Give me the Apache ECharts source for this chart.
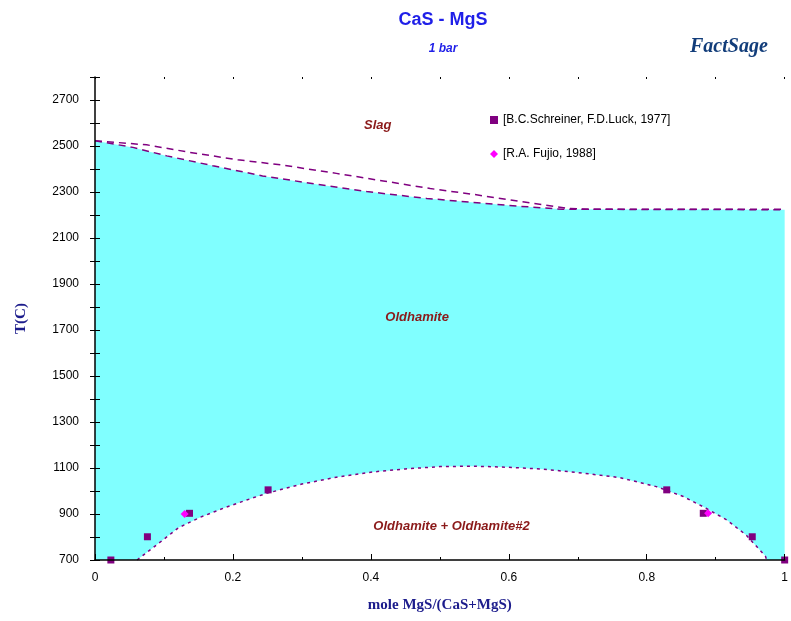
<!DOCTYPE html>
<html>
<head>
<meta charset="utf-8">
<title>CaS - MgS</title>
<script src="https://cdn.jsdelivr.net/npm/echarts@6/dist/echarts.min.js"></script>
<style>
  html, body { margin: 0; padding: 0; background: #fff; }
  #chart { width: 791px; height: 621px; }
</style>
</head>
<body>
<div id="chart"></div>
<script>
// mole MgS/(CaS+MgS) vs T(C)
// liquidus (upper dashed line)
var liquidusX = [0, 0.075, 0.138, 0.207, 0.272, 0.350, 0.418, 0.486, 0.548, 0.635, 0.688, 0.717, 1]
var liquidusT = [2523, 2505, 2472, 2440, 2417, 2381, 2348, 2315, 2290, 2251, 2228, 2225, 2225]
// solidus (top of the oldhamite field)
var solidusX = [0, 0.055, 0.104, 0.171, 0.243, 0.321, 0.394, 0.481, 0.611, 0.678, 1]
var solidusT = [2523, 2494, 2457, 2414, 2370, 2334, 2302, 2272, 2239, 2225, 2223]
// miscibility gap (Oldhamite + Oldhamite#2)
var gapX = [0.061, 0.089, 0.121, 0.152, 0.186, 0.220, 0.249, 0.30, 0.35, 0.40, 0.45, 0.50, 0.55, 0.60, 0.65, 0.70, 0.732, 0.761, 0.790, 0.814, 0.853, 0.886, 0.916, 0.944, 0.972, 0.974]
var gapT = [700, 765, 840, 885, 925, 961, 990, 1030, 1060, 1082, 1096, 1106, 1108, 1103, 1095, 1080, 1069, 1058, 1037, 1019, 976, 925, 874, 809, 717, 700]

// experimental points
var refNames = ['[B.C.Schreiner, F.D.Luck, 1977]', '[R.A. Fujio, 1988]']
var refAX = [0.023, 0.076, 0.137, 0.251, 0.829, 0.882, 0.953, 1.0]
var refAT = [700, 801, 903, 1005, 1005, 903, 801, 700]
var refBX = [0.130, 0.889]
var refBT = [900, 903]

// phase field labels
var fieldNames = ['Slag', 'Oldhamite', 'Oldhamite + Oldhamite#2']
var fieldX = [0.41, 0.467, 0.517]
var fieldT = [2591, 1754, 844]

// axis ticks
var xTicks = [0, 0.2, 0.4, 0.6, 0.8, 1]
var yTicks = [700, 900, 1100, 1300, 1500, 1700, 1900, 2100, 2300, 2500, 2700]

function zip(xs, ys) {
  return xs.map(function (x, i) { return [x, ys[i]] })
}

var purple = '#800080'
var chart = echarts.init(document.getElementById('chart'))

chart.setOption({
  animation: false,
  title: {
    text: 'CaS - MgS',
    subtext: '1 bar',
    left: 438,
    textAlign: 'center',
    top: 6,
    itemGap: 14,
    textStyle: {
      fontFamily: 'Liberation Sans',
      fontSize: 18,
      fontWeight: 'bold',
      color: '#1f1fe8'
    },
    subtextStyle: {
      fontFamily: 'Liberation Sans',
      fontSize: 12,
      fontWeight: 'bold',
      fontStyle: 'italic',
      color: '#1f1fe8'
    }
  },
  graphic: [{
    type: 'text',
    left: 690,
    top: 37,
    style: {
      text: 'FactSage',
      font: 'bold italic 20px "Liberation Serif"',
      fill: '#123d7a'
    }
  }],
  legend: {
    data: refNames,
    orient: 'vertical',
    left: 485,
    top: 109,
    itemWidth: 8,
    itemHeight: 8,
    itemGap: 22,
    textStyle: {
      fontFamily: 'Liberation Sans',
      fontSize: 12,
      color: '#000'
    }
  },
  grid: {
    left: 95,
    right: 6,
    top: 77,
    bottom: 61
  },
  xAxis: [{
    type: 'value',
    min: 0,
    max: 1,
    interval: 0.2,
    z: 10,
    name: 'mole MgS/(CaS+MgS)',
    nameLocation: 'middle',
    nameGap: 38,
    nameTextStyle: {
      fontFamily: 'Liberation Serif',
      fontSize: 15,
      fontWeight: 'bold',
      color: '#1c1c8c'
    },
    axisLine: { lineStyle: { color: '#000', width: 1.5 } },
    axisTick: { inside: true, length: 6, lineStyle: { color: '#000' } },
    minorTick: { show: true, splitNumber: 2, length: 3, lineStyle: { color: '#000' } },
    splitLine: { show: false },
    axisLabel: {
      margin: 12,
      fontFamily: 'Liberation Sans',
      fontSize: 12,
      color: '#000',
      formatter: function (v) {
        return xTicks.indexOf(Math.round(v * 10) / 10) >= 0 ? String(Math.round(v * 10) / 10) : ''
      }
    }
  }, {
    type: 'value',
    position: 'top',
    min: 0,
    max: 1,
    interval: 0.1,
    axisLine: { show: false },
    axisTick: { inside: true, length: 2, lineStyle: { color: '#000' } },
    axisLabel: { show: false },
    splitLine: { show: false }
  }],
  yAxis: [{
    type: 'value',
    min: 700,
    max: 2800,
    interval: 100,
    z: 10,
    name: 'T(C)',
    nameLocation: 'middle',
    nameGap: 66,
    nameTextStyle: {
      fontFamily: 'Liberation Serif',
      fontSize: 15,
      fontWeight: 'bold',
      color: '#1c1c8c'
    },
    axisLine: { show: true, lineStyle: { color: '#000', width: 1.5 } },
    axisTick: { inside: true, length: 5, lineStyle: { color: '#000' } },
    splitLine: { show: false },
    axisLabel: {
      margin: 16,
      fontFamily: 'Liberation Sans',
      fontSize: 12,
      color: '#000',
      formatter: function (v) {
        return yTicks.indexOf(v) >= 0 ? String(v) : ''
      }
    }
  }, {
    type: 'value',
    position: 'right',
    min: 700,
    max: 2800,
    interval: 100,
    z: 10,
    axisLine: { show: false },
    axisTick: { show: true, inside: true, length: 5, lineStyle: { color: '#000' } },
    axisLabel: { show: false },
    splitLine: { show: false }
  }],
  series: [{
    name: 'solidus',
    type: 'line',
    data: zip(solidusX, solidusT),
    symbol: 'none',
    lineStyle: { color: purple, width: 1.5, type: [7, 5] },
    areaStyle: { color: '#80ffff', opacity: 1, origin: 'start' },
    z: 1
  }, {
    name: 'gap',
    type: 'line',
    data: zip(gapX, gapT),
    symbol: 'none',
    lineStyle: { color: purple, width: 1.5, type: [3, 4] },
    areaStyle: { color: '#ffffff', opacity: 1, origin: 'start' },
    z: 2
  }, {
    name: 'liquidus',
    type: 'line',
    data: zip(liquidusX, liquidusT),
    symbol: 'none',
    lineStyle: { color: purple, width: 1.5, type: [7, 5] },
    z: 3
  }, {
    name: refNames[0],
    type: 'scatter',
    data: zip(refAX, refAT),
    symbol: 'rect',
    symbolSize: 7,
    itemStyle: { color: purple, opacity: 1 },
    z: 4
  }, {
    name: refNames[1],
    type: 'scatter',
    data: zip(refBX, refBT),
    symbol: 'diamond',
    symbolSize: 8,
    itemStyle: { color: '#ff00ff', opacity: 1 },
    z: 5
  }, {
    name: 'fields',
    type: 'scatter',
    silent: true,
    data: fieldX.map(function (x, i) { return [x, fieldT[i], fieldNames[i]] }),
    symbolSize: 1,
    itemStyle: { color: 'rgba(0,0,0,0)', opacity: 1 },
    label: {
      show: true,
      position: 'inside',
      formatter: function (p) { return p.data[2] },
      fontFamily: 'Liberation Sans',
      fontSize: 13,
      fontWeight: 'bold',
      fontStyle: 'italic',
      color: '#8b1a1a',
      opacity: 1
    },
    z: 6
  }]
})
</script>
</body>
</html>
